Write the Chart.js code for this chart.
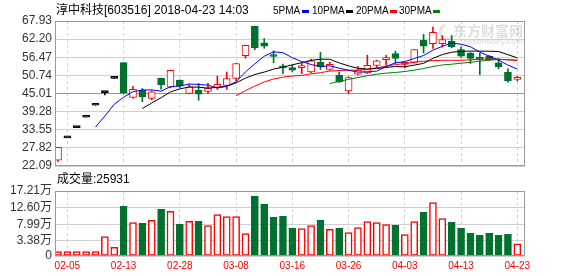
<!DOCTYPE html>
<html>
<head>
<meta charset="utf-8">
<script src="https://cdn.jsdelivr.net/npm/chart.js@4.4.1/dist/chart.umd.min.js"></script>
<style>
body{margin:0;background:#fff;width:578px;height:276px;overflow:hidden;position:relative;font-family:"Liberation Sans","Noto Sans CJK SC",sans-serif;}
canvas{position:absolute;left:0;top:0;}
.t{position:absolute;font-size:12px;line-height:14px;color:#000;white-space:nowrap;z-index:2}
.lg{position:absolute;top:4px;font-size:10px;line-height:13px;color:#000;white-space:nowrap;z-index:2}
.dash{position:absolute;top:10px;width:7px;height:3px;z-index:2}
</style>
</head>
<body>
<canvas id="price" width="578" height="276"></canvas>
<canvas id="vol" width="578" height="276"></canvas>
<div class="t" style="left:56px;top:3px">淳中科技[603516] 2018-04-23 14:03</div>
<div class="lg" style="left:273px">5PMA</div><div class="dash" style="left:302px;background:#0000ff"></div>
<div class="lg" style="left:312px">10PMA</div><div class="dash" style="left:346px;background:#000"></div>
<div class="lg" style="left:356px">20PMA</div><div class="dash" style="left:390px;background:#ff0000"></div>
<div class="lg" style="left:399px">30PMA</div><div class="dash" style="left:433px;background:#008000"></div>
<div class="t" style="left:57px;top:172px">成交量:25931</div>
<script>
// trading days
const dates = ['02-02','02-05','02-06','02-07','02-08','02-09','02-12','02-13','02-14','02-22',
  '02-23','02-26','02-27','02-28','03-01','03-02','03-05','03-06','03-07','03-08',
  '03-09','03-12','03-13','03-14','03-15','03-16','03-19','03-20','03-21','03-22',
  '03-23','03-26','03-27','03-28','03-29','03-30','04-02','04-03','04-04','04-09',
  '04-10','04-11','04-12','04-13','04-16','04-17','04-18','04-19','04-20','04-23'];

const openP = [23.9,31.0,34.2,37.5,41.3,45.3,49.8,54.78,43.76,46.06,
  43.45,49.9,47.0,49.2,45.0,46.06,45.65,46.9,47.55,49.8,
  57.0,66.25,61.0,56.9,53.3,53.2,53.2,51.8,54.9,52.6,
  50.8,45.85,51.1,51.5,53.85,55.7,57.6,54.2,54.8,61.8,
  60.8,60.8,61.6,58.9,57.8,56.2,56.8,54.7,51.8,49.5];
const highP = [28.0,31.0,34.2,37.5,41.3,45.3,49.8,54.78,47.3,46.6,
  45.9,49.9,52.4,49.3,48.0,48.2,48.2,50.5,51.8,54.6,
  60.3,66.3,62.4,58.5,54.3,54.0,54.6,55.9,58.0,54.9,
  51.8,50.3,53.6,57.1,55.6,57.1,58.4,55.1,58.9,63.7,
  66.0,63.3,63.3,59.7,58.0,57.8,57.0,56.1,52.8,50.5];
const lowP = [23.5,31.0,34.2,37.5,41.3,44.6,49.8,45.0,43.5,42.4,
  43.0,46.4,46.8,46.9,44.9,42.9,45.0,46.3,46.3,49.0,
  56.2,58.9,59.3,54.7,51.3,51.8,51.3,51.6,52.6,52.4,
  48.5,45.0,50.9,51.3,53.3,54.0,54.5,53.2,54.7,57.8,
  59.3,59.7,59.5,56.5,54.5,51.0,55.5,52.8,48.6,49.0];
const closeP = [28.0,31.0,34.2,37.5,41.3,45.3,49.8,45.2,46.3,43.95,
  45.5,47.8,52.3,47.35,47.1,44.8,46.7,47.9,49.76,54.5,
  60.26,59.5,60.0,56.7,53.1,52.4,53.4,55.3,53.4,54.27,
  48.7,50.07,52.4,53.95,55.3,55.85,56.1,54.3,58.9,59.95,
  64.36,62.06,59.7,56.8,56.1,55.8,55.7,53.4,49.0,49.75];
// volume, 万
const volume = [0.40,0.40,0.40,0.40,0.40,4.56,1.60,12.96,8.43,8.25,
  9.08,12.13,11.57,7.97,8.80,8.80,7.60,10.65,10.10,10.10,
  5.39,15.73,13.51,9.91,10.19,6.86,6.77,7.60,9.17,6.59,
  6.86,5.66,7.05,8.71,8.43,7.88,7.69,5.11,8.71,11.30,
  13.97,9.54,8.53,6.86,5.48,4.92,5.48,4.92,5.20,2.59];

const priceTicks = [22.09,27.82,33.55,39.28,45.01,50.74,56.47,62.20,67.93];
const volTicks = [-0.8,3.38,7.99,12.60,17.21];
const dateTicks = [1,7,13,19,25,31,37,43,49];
const maDays = [5,10,20,30];
const maColors = ['#0000ff','#000000','#ff0000','#008000'];

const RED = '#ff0000', GREEN = '#00712f';
const candleColor = closeP.map((c,i) => c > openP[i] ? RED : (c < openP[i] ? GREEN : '#000'));
const volColor = closeP.map((c,i) => c < openP[i] ? GREEN : RED);

function ma(n){
  return closeP.map((c,i) => {
    if(i < n-1) return {x:i, y:null};
    let s = 0;
    for(let k=i-n+1;k<=i;k++) s += closeP[k];
    return {x:i, y:s/n};
  });
}

Chart.defaults.font.family = '"Liberation Sans","Noto Sans CJK SC",sans-serif';
Chart.defaults.animation = false;

const frame = {
  id:'frame',
  afterDraw(c){
    const {ctx, chartArea:a} = c;
    ctx.save();
    ctx.strokeStyle = '#999';
    ctx.lineWidth = 1;
    const l = Math.round(a.left)+0.5, t = Math.round(a.top)+0.5;
    ctx.strokeRect(l, t, Math.round(a.right)-Math.round(a.left)-1, Math.round(a.bottom)-Math.round(a.top)-1);
    ctx.restore();
  }
};

const watermark = {
  id:'watermark',
  beforeDatasetsDraw(c){
    const {ctx, chartArea:a} = c;
    ctx.save();
    ctx.fillStyle = 'rgba(0,0,0,0.13)';
    ctx.font = 'bold 14px "Noto Sans CJK SC"';
    ctx.textAlign = 'right';
    ctx.fillText('东方财富网', a.right-2, a.top+15);
    ctx.font = 'bold 8px "Liberation Sans"';
    ctx.fillText('eastmoney.com', a.right-2, a.top+23);
    ctx.lineWidth = 3;
    ctx.strokeStyle = 'rgba(0,0,0,0.1)';
    ctx.beginPath();
    ctx.arc(a.right-78, a.top+11, 7, 0.5, 4.5);
    ctx.stroke();
    ctx.restore();
  }
};

const xBase = {
  type:'linear', min:-0.32, max:49.82, offset:false,
  afterBuildTicks: ax => { ax.ticks = dateTicks.map(v => ({value:v})); },
  grid:{color:'#cfcfcf', offset:false, drawTicks:false},
  border:{display:false, dash:[3,3]}
};

new Chart(document.getElementById('price'), {
  type:'bar',
  data:{
    datasets:[
      ...maDays.map((n,k) => ({
        type:'line', label:n+'PMA', data:ma(n), borderColor:maColors[k],
        borderWidth:1, pointRadius:0, tension:0, order:0
      })),
      {
        label:'body', data:closeP.map((c,i) => ({x:i, y:[openP[i], c]})),
        backgroundColor:closeP.map((c,i) => c > openP[i] ? '#fff' : candleColor[i]),
        borderColor:candleColor, borderWidth:1, borderSkipped:false,
        barThickness:7, minBarLength:2, grouped:false, order:1
      },
      {
        label:'wick', data:closeP.map((c,i) => ({x:i, y:[lowP[i], highP[i]]})),
        backgroundColor:candleColor, barThickness:1, grouped:false, order:2
      }
    ]
  },
  options:{
    responsive:false,
    events:[],
    layout:{padding:{top:21, right:53, bottom:110, left:0}},
    plugins:{legend:{display:false}, tooltip:{enabled:false}},
    scales:{
      x:{...xBase, ticks:{display:false}, afterFit: ax => { ax.height = 0; }},
      y:{
        min:22.09, max:67.93,
        afterBuildTicks: ax => { ax.ticks = priceTicks.map(v => ({value:v})); },
        afterFit: ax => { ax.width = 55; },
        ticks:{color:'#333', padding:3, autoSkip:false, font:{size:12}, callback: v => v.toFixed(2)},
        grid:{drawTicks:false, color: ctx => (ctx.tick && Math.abs(ctx.tick.value-45.01) < 0.001) ? '#999' : '#cfcfcf'},
        border:{display:false}
      }
    }
  },
  plugins:[watermark, frame]
});

new Chart(document.getElementById('vol'), {
  type:'bar',
  data:{
    datasets:[{
      label:'成交量', data:volume.map((v,i) => ({x:i, y:v})),
      base:-0.8,
      backgroundColor:volColor.map(c => c === RED ? '#fff' : GREEN),
      borderColor:volColor, borderWidth:1.5, borderSkipped:false,
      barThickness:7, grouped:false
    }]
  },
  options:{
    responsive:false,
    events:[],
    layout:{padding:{top:191, right:53, bottom:0, left:0}},
    plugins:{legend:{display:false}, tooltip:{enabled:false}},
    scales:{
      x:{...xBase,
        ticks:{color:'#ff0000', padding:4, autoSkip:false, maxRotation:0, font:{size:10}, callback: v => dates[v]},
        afterFit: ax => { ax.height = 20; }},
      y:{
        min:-0.8, max:17.21,
        afterBuildTicks: ax => { ax.ticks = volTicks.map(v => ({value:v})); },
        afterFit: ax => { ax.width = 55; },
        ticks:{color:'#333', padding:3, autoSkip:false, font:{size:12}, callback: v => v < 0 ? '0' : v.toFixed(2)+'万'},
        grid:{drawTicks:false, color:'#cfcfcf'},
        border:{display:false}
      }
    }
  },
  plugins:[frame]
});
</script>
</body>
</html>
